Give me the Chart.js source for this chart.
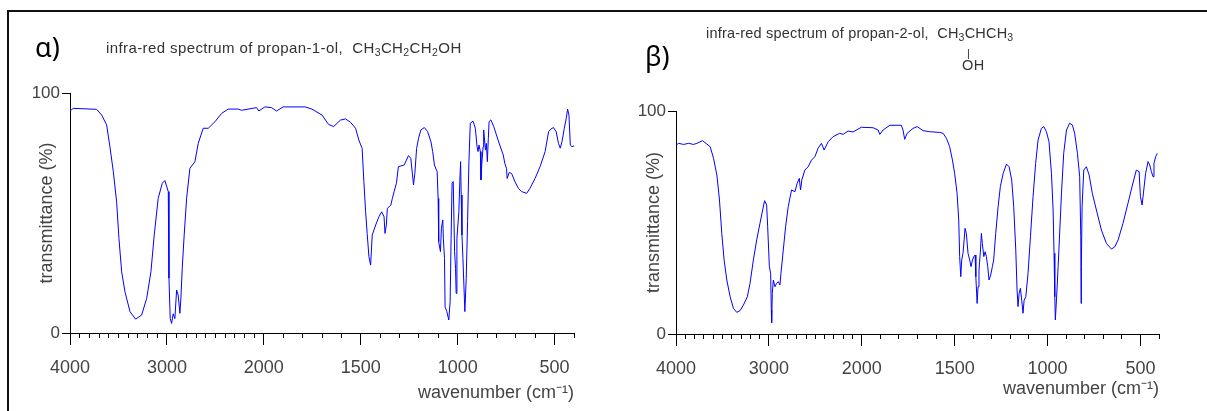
<!DOCTYPE html>
<html>
<head>
<meta charset="utf-8">
<script src="https://cdn.jsdelivr.net/npm/chart.js@4/dist/chart.umd.min.js"></script>
<style>
body{margin:0;background:#fff;width:1207px;height:411px;overflow:hidden;position:relative;font-family:'Liberation Sans',Arial,sans-serif}
#frame{position:absolute;left:7px;top:10px;right:0;bottom:0;border-left:2px solid #111;border-top:2px solid #111}
canvas{position:absolute;top:0}
#cA{left:0}
#cB{left:600px}
.tag{position:absolute;font-family:'Noto Sans',sans-serif;font-size:27px;line-height:1;color:#000}
.head{position:absolute;font-size:15px;letter-spacing:0.4px;line-height:1;color:#333;white-space:nowrap}
.head sub{font-size:10.5px;vertical-align:-3px}
</style>
</head>
<body>
<div id="frame"></div>
<canvas id="cA" width="600" height="411"></canvas>
<canvas id="cB" width="607" height="411"></canvas>
<div class="tag" style="left:35px;top:33px">α)</div>
<div class="tag" style="left:645px;top:42px">β)</div>
<div class="head" style="left:106px;top:40px">infra-red spectrum of propan-1-ol,&nbsp; CH<sub>3</sub>CH<sub>2</sub>CH<sub>2</sub>OH</div>
<div class="head" style="left:706px;top:26px;font-size:14.5px;letter-spacing:0.2px">infra-red spectrum of propan-2-ol,&nbsp; CH<sub>3</sub>CHCH<sub>3</sub></div>
<div class="head" style="left:967px;top:48px;font-size:11px">|</div>
<div class="head" style="left:962px;top:58px;font-size:14.5px">OH</div>
<script>
// propan-1-ol
const alphaWave = [4000,3966,3725,3673,3622,3588,3553,3519,3495,3467,3433,3381,3323,3261,3209,3165,3131,3090,3048,3021,2986,2979,2966,2952,2935,2918,2900,2884,2866,2856,2842,2822,2797,2763,2711,2677,2626,2574,2505,2436,2368,2265,2230,2075,2052,1995,1960,1935,1900,1787,1752,1700,
  1666,1640,1605,1579,1553,1527,1510,1493,1484,1475,1467,1458,1449,1441,1423,1406,1392,1380,1375,1368,1363,1345,1337,1328,1316,1306,1276,1254,1242,1233,1228,1221,1212,1202,1190,1172,1155,1138,1129,1120,1106,1101,1098,1089,1084,1077,1074,1068,1065,1056,1046,1039,1034,1029,1023,1016,1011,1008,1004,994,989,985,982,978,973,968,963,956,949,942,935,921,909,900,895,890,883,880,876,869,866,857,852,847,842,838,829,814,800,783,765,757,748,745,734,722,705,687,670,644,627,601,575,549,531,519,506,492,480,471,462,450,440,433,426,419,410,400];
const alphaTrans = [92.5,93.6,93.2,90.8,86.7,77.6,67.2,54.7,39.4,25.5,17.2,8.9,5.8,7.5,14.4,25.5,40.8,56.1,62.4,63.5,58.9,22.8,6.1,4.0,8.0,6.0,17.9,15.8,8.2,14.5,27.0,40.8,56.1,68.6,71.4,79.0,85.3,85.3,88.0,91.5,93.3,93.3,92.8,93.9,92.5,94.2,93.9,92.5,94.2,94.2,93.3,90.8,
  86.9,86.0,88.7,89.2,87.8,85.3,80.4,76.9,63.1,50.5,41.5,31.8,28.3,40.8,45.0,48.5,50.5,48.5,41.5,45.0,51.9,53.3,56.1,58.9,62.4,69.3,70.0,73.9,72.8,65.8,61.7,66.5,76.9,81.1,84.6,85.6,83.9,79.7,75.6,70.0,67.2,56.1,38.0,33.9,43.6,47.1,39.4,31.1,10.9,8.9,5.4,13.0,39.4,62.4,63.1,33.9,26.9,16.5,39.4,50.5,63.1,71.4,57.5,40.8,31.1,20.0,8.9,22.8,46.4,71.4,87.4,88.3,85.3,77.6,75.6,78.3,75.6,63.8,70.0,77.6,84.6,76.2,79.0,71.4,81.1,88.1,88.8,86.0,82.5,78.3,74.2,70.7,68.6,64.4,66.9,66.5,63.1,60.3,58.9,58.2,60.3,64.4,69.3,75.6,83.9,85.0,85.6,83.9,79.0,77.0,79.7,85.3,89.4,93.3,90.8,78.3,77.6,78.0];

// propan-2-ol
const betaWave = [4000,3972,3918,3864,3811,3775,3714,3668,3632,3596,3560,3532,3507,3482,3453,3417,3382,3346,3310,3274,3232,3203,3167,3131,3096,3067,3046,3024,3013,2995,2981,2974,2970,2963,2952,2935,2917,2899,2881,2870,2845,2820,2792,2756,2720,2695,2673,2659,2645,2613,2577,2541,2505,2470,2434,2405,2362,2309,2237,2201,2148,2094,2005,1939,1912,1903,1885,1849,1787,1778,1769,1756,1724,1702,1670,1634,1580,1562,1544,1527,1512,1500,1487,1478,1473,1467,1462,1455,1449,1444,1437,1428,1419,1412,1404,1397,1390,1386,1379,1374,1369,1361,1356,1351,1343,1336,1329,1322,1315,1306,1297,1290,1279,1266,1254,1239,1221,1207,1193,1182,1171,1164,1159,1153,1146,1139,1132,1126,1117,1105,1092,1078,1064,1051,1033,1020,1006,992,979,970,965,961,958,952,943,934,925,913,898,881,866,854,839,827,821,819,818,814,805,791,776,759,737,710,683,656,638,620,594,567,543,522,507,500,491,482,472,459,450,441,432,427,418,409,400];
const betaTrans = [84.7,85.5,85.0,85.5,85.0,85.5,86.7,85.2,84.0,78.8,71.3,60.1,45.1,33.2,24.2,16.7,11.5,9.7,10.5,13.0,16.7,22.7,33.2,42.2,49.6,55.6,59.8,57.8,48.1,30.2,27.2,10.8,5.1,18.2,24.2,21.2,22.7,23.5,22.0,27.2,37.7,48.1,57.1,64.6,63.8,67.6,69.8,64.6,69.1,73.5,75.0,78.0,79.5,83.3,85.5,82.5,86.2,88.5,90.0,89.5,91.0,90.6,92.7,92.5,91.5,89.5,91.5,93.6,93.6,91.5,87.3,90.0,92.2,93.0,91.2,90.7,90.4,90.0,87.7,84.0,78.0,72.0,63.1,51.1,34.7,25.7,33.2,36.2,42.2,47.4,45.1,36.2,33.2,30.2,33.2,34.7,35.4,25.7,13.7,21.2,28.7,37.7,45.1,40.6,34.7,36.9,34.7,30.2,24.2,26.4,30.2,33.2,45.1,57.1,66.1,72.0,76.2,75.0,69.1,57.1,37.7,19.7,12.3,18.2,20.5,15.2,9.3,15.2,16.7,27.2,43.6,61.6,76.5,87.0,92.2,93.0,90.7,86.2,72.0,55.6,36.2,16.7,6.3,15.2,30.2,46.6,63.1,81.0,91.5,94.5,93.7,90.0,81.0,70.5,43.6,13.7,30.2,57.1,73.5,75.0,71.3,63.1,55.6,46.6,40.6,38.1,39.1,42.2,49.6,58.6,66.8,73.5,72.8,61.6,57.8,64.6,72.0,77.3,75.8,72.8,70.5,76.5,79.5,81.0];

const majorTicks = [4000, 3000, 2000, 1500, 1000, 500];
const minorTicks = [];
for (let w = 4000; w >= 400; w -= 100) minorTicks.push(w);
const yTicks = [0, 100];

// wavenumber axis: 4000-2000 is drawn at half the scale of 2000-400
class WaveScale extends Chart.LinearScale {
  getPixelForValue(value) {
    const p = value >= 2000 ? (4000 - value) / 2 : 1000 + (2000 - value);
    return this.getPixelForDecimal(p / 2600);
  }
}
WaveScale.id = 'wave';
WaveScale.defaults = {};
Chart.register(WaveScale);

const family = "'Liberation Sans', Arial, sans-serif";

function makeChart(id, waves, trans, box) {
  const ctx = document.getElementById(id).getContext('2d');
  return new Chart(ctx, {
    type: 'line',
    data: {
      datasets: [{
        data: waves.map((w, i) => ({x: w, y: trans[i]})),
        borderColor: '#0000ff',
        borderWidth: 1,
        pointRadius: 0,
        tension: 0
      }]
    },
    options: {
      responsive: false,
      animation: false,
      layout: {padding: {top: box.top, right: box.right, left: 0, bottom: 0}},
      plugins: {legend: {display: false}, tooltip: {enabled: false}},
      scales: {
        xm: {
          type: 'wave', position: 'bottom', weight: 0, min: 400, max: 4000,
          afterBuildTicks: s => { s.ticks = minorTicks.map(v => ({value: v})); },
          afterFit: s => { s.height = 0; },
          ticks: {autoSkip: false, maxRotation: 0, callback: () => ''},
          grid: {drawOnChartArea: false, tickLength: 5, color: '#000'},
          border: {color: '#000'}
        },
        x: {
          type: 'wave', position: 'bottom', weight: 1, min: 400, max: 4000,
          afterBuildTicks: s => { s.ticks = majorTicks.map(v => ({value: v})); },
          afterFit: s => { s.height = box.xh; },
          ticks: {autoSkip: false, maxRotation: 0, padding: 12, color: '#444',
                  font: {family: family, size: 18}, callback: v => String(v)},
          grid: {drawOnChartArea: false, tickLength: 12, color: '#000'},
          border: {color: '#000'},
          title: {display: true, text: 'wavenumber (cm⁻¹)', align: 'end', color: '#444',
                  font: {family: family, size: 18}, padding: {top: 0, bottom: box.xt}}
        },
        y: {
          min: 0, max: 100,
          afterBuildTicks: s => { s.ticks = yTicks.map(v => ({value: v})); },
          afterFit: s => { s.width = box.yw; },
          ticks: {padding: 2, color: '#444', font: {family: family, size: 17}},
          grid: {drawOnChartArea: false, tickLength: 8, color: '#000'},
          border: {color: '#000'},
          title: {display: true, text: 'transmittance (%)', color: '#444',
                  font: {family: family, size: 18}, padding: {top: box.yt, bottom: 0}}
        }
      }
    }
  });
}

makeChart('cA', alphaWave, alphaTrans, {top: 93, right: 26, xh: 78, yw: 70, xt: 7, yt: 36});
makeChart('cB', betaWave, betaTrans, {top: 111, right: 48, xh: 77, yw: 76, xt: 11, yt: 43});
</script>
</body>
</html>
